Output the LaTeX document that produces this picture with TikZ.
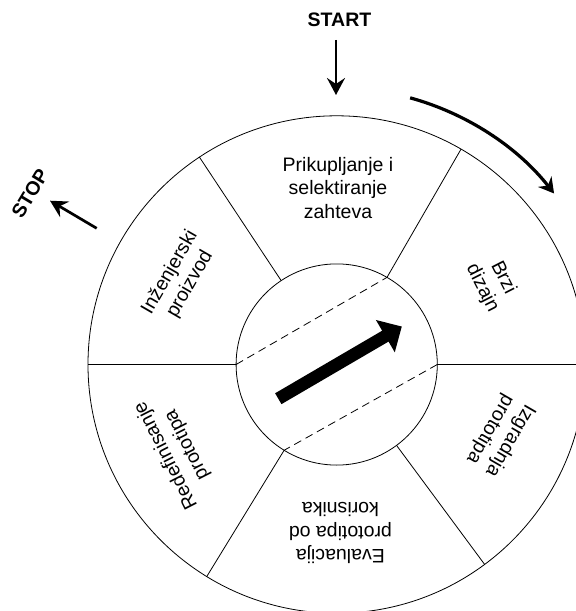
\documentclass[tikz,border=0pt]{standalone}
\usepackage{fontspec}
\setmainfont{Liberation Sans}
\usetikzlibrary{arrows.meta}
\begin{document}
\begin{tikzpicture}[x=1pt,y=1pt,
  thinline/.style={line width=0.8pt},
  chord/.style={line width=0.8pt, dash pattern=on 8pt off 5pt},
  lbl/.style={align=center, font=\fontsize{19.5}{23.3}\selectfont, inner sep=0pt},
  ttl/.style={font=\fontsize{19.5}{23}\selectfont\bfseries, inner sep=0pt},
  flow/.style={line width=2.7pt, -{Stealth[length=17pt,width=18pt,inset=6pt]}},
  turn/.style={line width=3.2pt, -{Stealth[length=15pt,width=17pt,inset=5pt]}}
]
\useasboundingbox (-336.7,-246.5) rectangle (239.3,364.5);
\clip (-336.7,-246.5) rectangle (239.3,364.5);
\coordinate (O) at (0,0);
% wheel
\draw[thinline] (O) circle[radius=248.7];
\draw[thinline] (O) circle[radius=100.6];
\foreach \a in {0,60,123.5,180,238.5,-53.5}
  \draw[thinline] (\a:100.6) -- (\a:248.7);
% dashed chords
\draw[chord] (180:100.6) -- (60:100.6);
\draw[chord] (0:100.6) -- (238.5:100.6);
% central arrow
\fill[shift={(-58.4,-34.2)}, rotate=30.3]
  (0,-6.3) -- (124,-6.3) -- (124,-18.7) -- (143,0) -- (124,18.7) -- (124,6.3) -- (0,6.3) -- cycle;
% sector labels
\node[lbl] (p1) at (1.3,176.5) {Prikupljanje i\\selektiranje\\zahteva};
\node[lbl, rotate=-63] (p2) at (156,81.5) {Brzi\\dizajn};
\node[lbl, rotate=-120] (p3) at (163.3,-70.5) {Izgradnja\\prototipa};
\node[lbl, rotate=180] (p4) at (3.7,-168.5) {Evaluacija\\prototipa od\\korisnika};
\node[lbl, rotate=117] (p5) at (-160,-85.5) {Redefinisanje\\prototipa};
\node[lbl, rotate=60] (p6) at (-156.7,86.2) {Inženjerski\\proizvod};
% START
\node[ttl] (start) at (2.8,345.2) {START};
\coordinate (s1) at (-0.7,324.5);
\coordinate (s2) at (-0.7,269.5);
\draw[flow] (s1) -- (s2);
% rotation arrow
\draw[turn] (74.6:276.6) arc[start angle=74.6, end angle=38.2, radius=276.6];
% STOP
\node[ttl, rotate=59] (stop) at (-306.7,171.2) {STOP};
\coordinate (t1) at (-240,136.2);
\coordinate (t2) at (-286.7,163.8);
\draw[flow] (t1) -- (t2);
\end{tikzpicture}
\end{document}
